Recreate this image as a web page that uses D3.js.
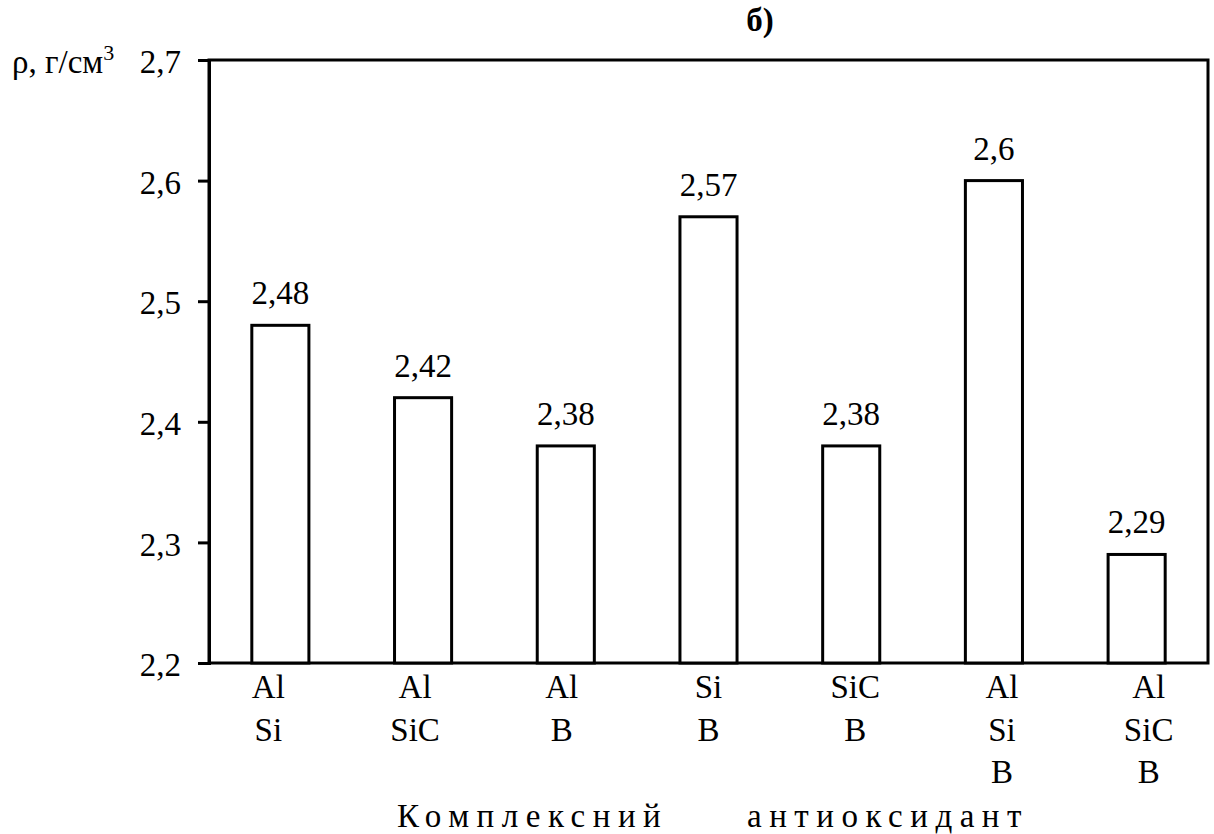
<!DOCTYPE html>
<html><head><meta charset="utf-8">
<script src="https://cdn.jsdelivr.net/npm/d3@7"></script>
</head><body style="margin:0">
<svg id="c" width="1214" height="834"></svg>
<script>
const categories = [["Al","Si"],["Al","SiC"],["Al","B"],["Si","B"],["SiC","B"],["Al","Si","B"],["Al","SiC","B"]];
const values = [2.48, 2.42, 2.38, 2.57, 2.38, 2.6, 2.29];
const yTicks = [2.2, 2.3, 2.4, 2.5, 2.6, 2.7];
const title = "б)";
const xTitleWords = ["Комплексний", "антиоксидант"];
const yTitle = "ρ, г/см";
const yTitleSup = "3";

const FONT = "Times New Roman";
const FS = 33;
const svg = d3.select("#c");
const m = {l:209, r:1208, t:60, b:663};
const x = d3.scaleBand().domain(d3.range(values.length)).range([m.l, m.r]).paddingInner(0.6).paddingOuter(0.3);
const y = d3.scaleLinear().domain([2.2, 2.7]).range([m.b, m.t]);
const fmt = v => String(v).replace(".", ",");

function txt(sel){ return sel.attr("font-size", FS).style("font-family", FONT); }

// frame
svg.append("rect").attr("x", m.l).attr("y", m.t).attr("width", m.r-m.l).attr("height", m.b-m.t)
  .attr("fill","none").attr("stroke","#000").attr("stroke-width",3);

// y axis: ticks from d3 axis, labels drawn as plain text
const ya = svg.append("g").attr("transform",`translate(${m.l},0)`)
  .call(d3.axisLeft(y).tickValues(yTicks).tickFormat("").tickSize(11));
ya.select(".domain").attr("stroke-width",3);
ya.selectAll(".tick line").attr("stroke-width",3);
ya.selectAll(".tick text").remove();
txt(svg.append("g").selectAll("text").data(yTicks).join("text"))
  .attr("x", m.l - 28).attr("y", d => y(d)).attr("dy","0.4em")
  .attr("text-anchor","end").text(fmt);

// bars
svg.append("g").selectAll("rect").data(values).join("rect")
  .attr("x",(d,i)=>x(i)).attr("width",x.bandwidth())
  .attr("y",d=>y(d)).attr("height",d=>y(2.2)-y(d))
  .attr("fill","#fff").attr("stroke","#000").attr("stroke-width",3);

// value labels
txt(svg.append("g").selectAll("text").data(values).join("text"))
  .attr("x",(d,i)=>x(i)+x.bandwidth()/2).attr("y",d=>y(d)-21)
  .attr("text-anchor","middle").text(fmt);

// x category labels
const xg = svg.append("g");
categories.forEach((lines,i)=>{
  lines.forEach((s,j)=>{
    txt(xg.append("text")).attr("x",x(i)+x.bandwidth()/2 + (i-3)*4).attr("y",698+j*42.5)
      .attr("text-anchor","middle").text(s);
  });
});

// titles
txt(svg.append("text")).attr("x",760).attr("y",31).attr("text-anchor","middle")
  .attr("font-weight","bold").text(title);
const yl = txt(svg.append("text")).attr("x",12).attr("y",73);
yl.append("tspan").text(yTitle);
yl.append("tspan").attr("dy",-13).attr("font-size",22).text(yTitleSup);
txt(svg.append("text")).attr("x",397).attr("y",827).attr("letter-spacing","7.5px").text(xTitleWords[0]);
txt(svg.append("text")).attr("x",747).attr("y",827).attr("letter-spacing","7.5px").text(xTitleWords[1]);
</script>
</body></html>
